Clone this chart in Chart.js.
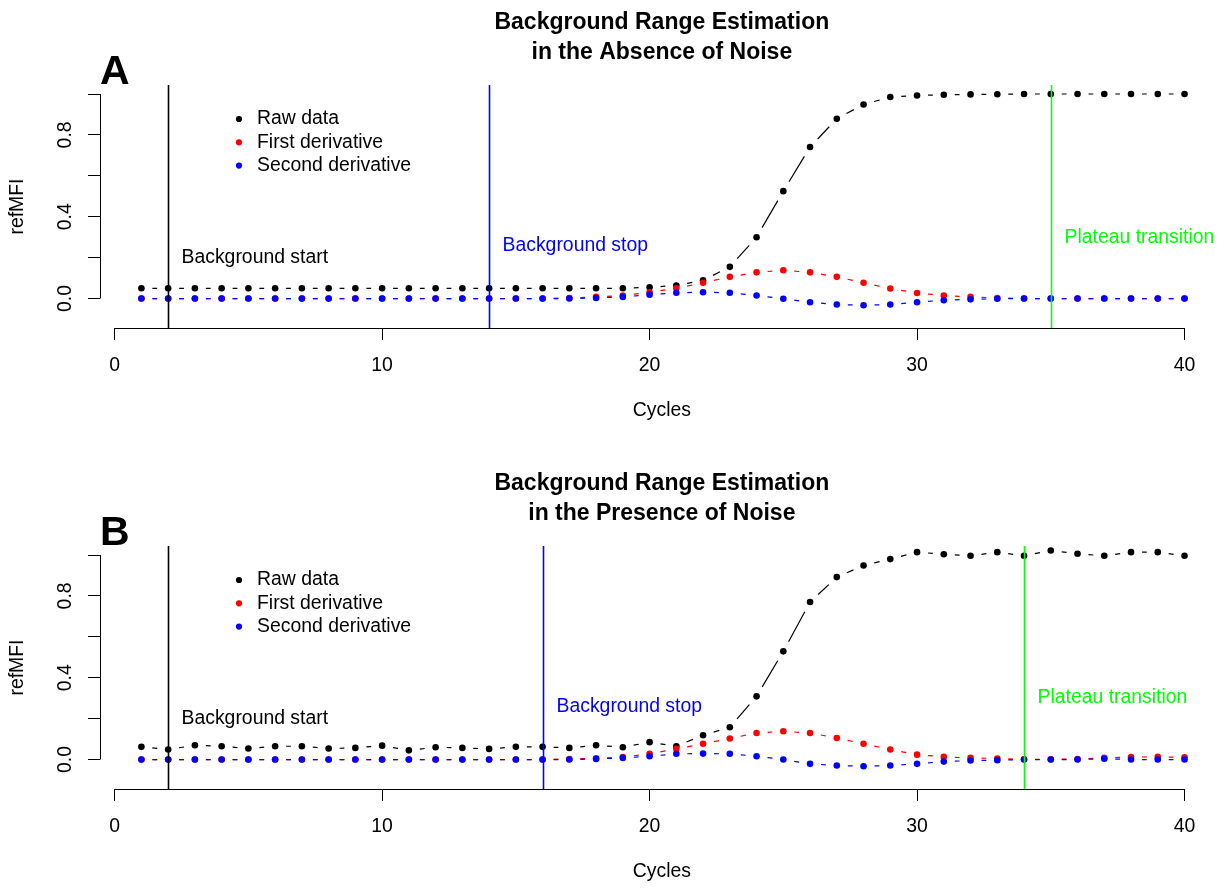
<!DOCTYPE html>
<html>
<head>
<meta charset="utf-8">
<script src="https://cdn.jsdelivr.net/npm/chart.js@4.4.1/dist/chart.umd.min.js"></script>
<style>
  html, body { margin: 0; padding: 0; background: #ffffff; overflow: hidden; }
  .panel { position: absolute; left: 0; width: 1227px; height: 461px; }
  #panelA { top: 0; }
  #panelB { top: 461px; }
</style>
</head>
<body>
<div class="panel" id="panelA"><canvas id="chartA" width="1227" height="461"></canvas></div>
<div class="panel" id="panelB"><canvas id="chartB" width="1227" height="461"></canvas></div>
<script>
// ---- data ----------------------------------------------------------------
const cycles = [1, 2, 3, 4, 5, 6, 7, 8, 9, 10, 11, 12, 13, 14, 15, 16, 17, 18, 19, 20,
                21, 22, 23, 24, 25, 26, 27, 28, 29, 30, 31, 32, 33, 34, 35, 36, 37, 38, 39, 40];

// Panel A: noise-free amplification curve and its derivatives
const rawA = [0.05, 0.05, 0.05, 0.05, 0.05, 0.05, 0.05, 0.05, 0.05, 0.05,
              0.05, 0.05, 0.05, 0.05, 0.05, 0.05, 0.05, 0.05, 0.05, 0.055,
              0.064, 0.089, 0.155, 0.300, 0.525, 0.741, 0.879, 0.949, 0.985, 0.993,
              0.996, 0.998, 0.999, 1.0, 1.0, 1.0, 1.0, 1.0, 1.0, 1.0];
const firstDerivA = [0, 0, 0, 0, 0, 0, 0, 0, 0, 0,
                     0, 0, 0, 0, 0, 0, 0.003, 0.008, 0.015, 0.031,
                     0.050, 0.077, 0.106, 0.128, 0.138, 0.128, 0.106, 0.077, 0.049, 0.027,
                     0.015, 0.008, 0.003, 0, 0, 0, 0, 0, 0, 0];
const secondDerivA = [0, 0, 0, 0, 0, 0, 0, 0, 0, 0,
                      0, 0, 0, 0, 0, 0, 0, 0.003, 0.008, 0.019,
                      0.028, 0.031, 0.028, 0.015, -0.001, -0.018, -0.029, -0.033, -0.029, -0.018,
                      -0.008, -0.004, -0.001, 0, 0, 0, 0, 0, 0, 0];

// Panel B: the same curve with measurement noise
const rawB = [0.062, 0.049, 0.070, 0.065, 0.054, 0.065, 0.065, 0.054, 0.057, 0.068,
              0.045, 0.060, 0.057, 0.052, 0.062, 0.062, 0.057, 0.070, 0.060, 0.085,
              0.065, 0.119, 0.158, 0.309, 0.529, 0.770, 0.892, 0.949, 0.980, 1.014,
              1.004, 0.996, 1.014, 0.996, 1.022, 1.006, 0.996, 1.014, 1.014, 0.996];
const firstDerivB = [0, 0, 0, 0, 0, 0, 0, 0, 0, 0,
                     0, 0, 0, 0, 0, 0, 0.003, 0.006, 0.012, 0.028,
                     0.052, 0.077, 0.103, 0.130, 0.138, 0.130, 0.105, 0.077, 0.049, 0.024,
                     0.013, 0.008, 0.005, 0.001, 0.001, 0.003, 0.008, 0.012, 0.013, 0.011];
const secondDerivB = [0, 0, 0, 0, 0, 0, 0, 0, 0, 0,
                      0, 0, 0, 0, 0, 0, 0, 0.003, 0.008, 0.016,
                      0.028, 0.029, 0.028, 0.016, 0.0, -0.021, -0.029, -0.033, -0.029, -0.021,
                      -0.010, -0.005, -0.003, 0, 0, 0, 0.004, 0, 0, 0];

// Range markers: background start, background stop, plateau transition
const markerNames = ['Background start', 'Background stop', 'Plateau transition'];
const markerColors = ['#000000', '#0000ff', '#00ff00'];
const markersA = [2, 14, 35];
const markersB = [2, 16, 34];
const markerLabelYA = [0.2, 0.26, 0.3];
const markerLabelYB = [0.2, 0.26, 0.305];

const seriesNames = ['Raw data', 'First derivative', 'Second derivative'];
const seriesColors = ['#000000', '#ff0000', '#0000ff'];

const xTicks = [0, 10, 20, 30, 40];
const yTicks = [0, 0.2, 0.4, 0.6, 0.8, 1.0];
const yTickLabels = ['0.0', '', '0.4', '', '0.8', ''];

// ---- styling helpers -----------------------------------------------------
const FONT = '"Liberation Sans", Arial, Helvetica, sans-serif';
const BASE = 19.4;
Chart.defaults.font.family = FONT;
Chart.defaults.font.size = BASE;
Chart.defaults.color = '#000000';

// "both" style: each segment is cut back around its points, leaving a gap
function gappedSegment(ctx) {
  const p0 = ctx.p0, p1 = ctx.p1;
  const len = Math.hypot(p1.x - p0.x, p1.y - p0.y);
  const gap = 11;
  const dash = len - 2 * gap;
  if (dash <= 0) return [0, len + 1000];
  return [0, gap, dash, gap + 1000];
}

function series(label, values, color, order) {
  return {
    label,
    data: cycles.map((c, i) => ({ x: c, y: values[i] })),
    borderColor: color,
    backgroundColor: color,
    pointBackgroundColor: color,
    pointBorderColor: color,
    pointBorderWidth: 0,
    pointRadius: 3.3,
    pointHoverRadius: 3.3,
    borderWidth: 1.2,
    tension: 0,
    order,
    segment: {
      borderDash: gappedSegment,
      borderDashOffset: c => (c.p0DataIndex % 2) * 1e-4
    }
  };
}

// axis lines, range markers, legend and panel letter
const baseGraphics = {
  id: 'baseGraphics',
  afterDatasetsDraw(chart, args, opts) {
    const { ctx, chartArea: a, scales: { x, y } } = chart;
    opts.markers.forEach((m, i) => {
      const px = Math.round(x.getPixelForValue(m)) + 0.5;
      ctx.save();
      ctx.strokeStyle = markerColors[i];
      ctx.lineWidth = 1.6;
      ctx.beginPath();
      ctx.moveTo(px, a.top);
      ctx.lineTo(px, a.bottom);
      ctx.stroke();
      ctx.fillStyle = markerColors[i];
      ctx.font = `${BASE}px ${FONT}`;
      ctx.textAlign = 'left';
      ctx.textBaseline = 'middle';
      ctx.fillText(markerNames[i], px + 13, y.getPixelForValue(opts.labelY[i]));
      ctx.restore();
    });
  },
  afterDraw(chart, args, opts) {
    const { ctx, chartArea: a, scales: { x, y } } = chart;
    ctx.save();
    ctx.strokeStyle = '#000000';
    ctx.lineWidth = 1;
    // y axis spans only the tick range
    ctx.beginPath();
    ctx.moveTo(100.5, y.getPixelForValue(yTicks[0]));
    ctx.lineTo(100.5, y.getPixelForValue(yTicks[yTicks.length - 1]));
    ctx.stroke();
    // x axis spans only the tick range
    ctx.beginPath();
    ctx.moveTo(x.getPixelForValue(xTicks[0]), Math.round(a.bottom) + 0.5);
    ctx.lineTo(x.getPixelForValue(xTicks[xTicks.length - 1]), Math.round(a.bottom) + 0.5);
    ctx.stroke();

    // legend
    ctx.font = `${BASE}px ${FONT}`;
    ctx.textAlign = 'left';
    ctx.textBaseline = 'middle';
    chart.data.datasets.forEach((ds, i) => {
      const ry = a.top + 34 + i * 23.3;
      ctx.fillStyle = ds.borderColor;
      ctx.beginPath();
      ctx.arc(a.left + 139, ry, 3.1, 0, Math.PI * 2);
      ctx.fill();
      ctx.fillStyle = '#000000';
      ctx.fillText(ds.label, a.left + 157, ry);
    });

    // panel letter
    ctx.font = `bold 41px ${FONT}`;
    ctx.textBaseline = 'alphabetic';
    ctx.fillStyle = '#000000';
    ctx.fillText(opts.letter, a.left, a.top - 1);
    ctx.restore();
  }
};

function makePanel(canvasId, title, letter, raw, d1, d2, markers, labelY) {
  return new Chart(document.getElementById(canvasId), {
    type: 'line',
    data: {
      datasets: [
        series(seriesNames[0], raw, seriesColors[0], 3),
        series(seriesNames[1], d1, seriesColors[1], 2),
        series(seriesNames[2], d2, seriesColors[2], 1)
      ]
    },
    options: {
      responsive: false,
      animation: false,
      events: [],
      layout: { padding: 0 },
      plugins: {
        legend: { display: false },
        tooltip: { enabled: false },
        title: {
          display: true,
          text: title,
          fullSize: false,
          color: '#000000',
          font: { family: FONT, size: 23, weight: 'bold', lineHeight: 30 / 23 },
          padding: { top: 7.5, bottom: 17.5 }
        },
        baseGraphics: { letter, markers, labelY }
      },
      scales: {
        x: {
          type: 'linear',
          position: 'bottom',
          min: -0.548,
          max: 41.465,
          bounds: 'data',
          afterBuildTicks: s => { s.ticks = xTicks.map(v => ({ value: v })); },
          afterFit: s => { s.height = 133; },
          border: { display: false },
          grid: { drawOnChartArea: false, drawTicks: true, tickLength: 12, color: '#000000', lineWidth: 1 },
          ticks: { autoSkip: false, maxRotation: 0, padding: 14, color: '#000000',
                   font: { size: BASE }, callback: v => String(v) },
          title: { display: true, text: 'Cycles', color: '#000000', font: { size: BASE },
                   padding: { top: 0, bottom: 38.5 } }
        },
        y: {
          type: 'linear',
          position: 'left',
          min: -0.144,
          max: 1.044,
          bounds: 'data',
          afterBuildTicks: s => { s.ticks = yTicks.map(v => ({ value: v })); },
          afterFit: s => { s.width = 100; },
          border: { display: false },
          grid: { drawOnChartArea: false, drawTicks: true, tickLength: 12, color: '#000000', lineWidth: 1 },
          ticks: { autoSkip: false, minRotation: 90, maxRotation: 90, crossAlign: 'center',
                   padding: 8.6, color: '#000000', font: { size: BASE },
                   callback: (v, i) => yTickLabels[i] },
          title: { display: true, text: 'refMFI', color: '#000000', font: { size: BASE },
                   padding: { top: 6.5, bottom: 0 } }
        }
      }
    },
    plugins: [baseGraphics]
  });
}

makePanel('chartA', ['Background Range Estimation', 'in the Absence of Noise'], 'A',
          rawA, firstDerivA, secondDerivA, markersA, markerLabelYA);
makePanel('chartB', ['Background Range Estimation', 'in the Presence of Noise'], 'B',
          rawB, firstDerivB, secondDerivB, markersB, markerLabelYB);
</script>
</body>
</html>
